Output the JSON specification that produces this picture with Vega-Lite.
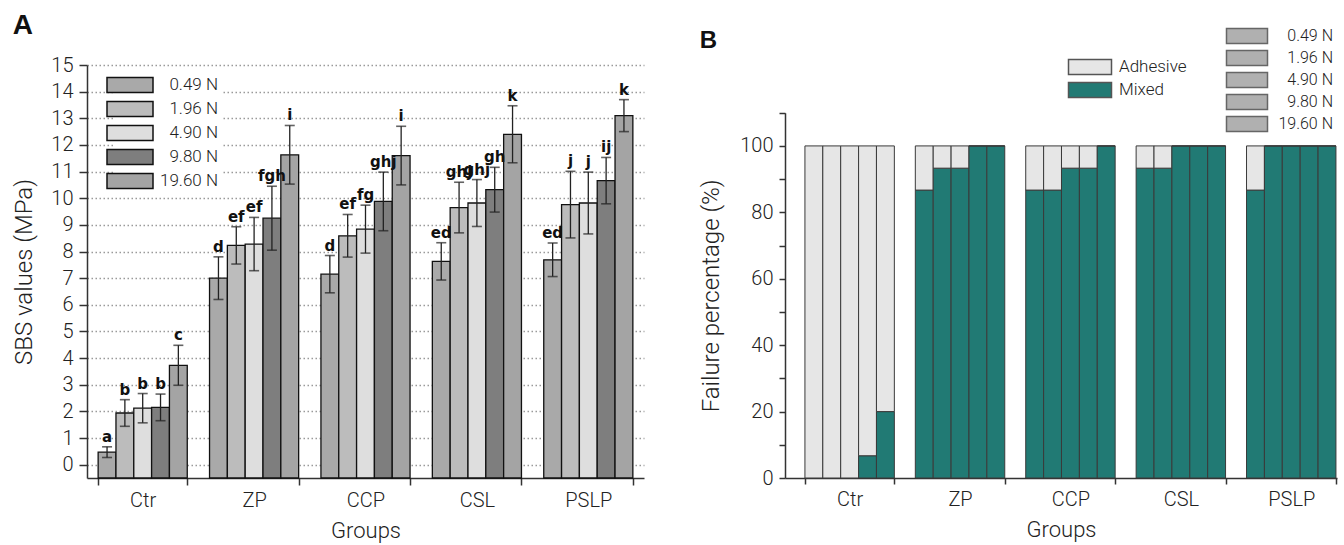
{
  "$schema": "https://vega.github.io/schema/vega-lite/v6.json",
  "background": "white",
  "padding": {"left": 12, "top": 12, "right": 4, "bottom": 4},
  "spacing": 55,
  "config": {
    "font": "Roboto",
    "view": {"stroke": null},
    "axis": {
      "labelFont": "Roboto", "labelFontWeight": 300, "labelFontSize": 20, "labelColor": "#222",
      "titleFont": "Roboto", "titleFontWeight": 300, "titleColor": "#222",
      "domainColor": "#333", "tickColor": "#333", "domainWidth": 1.5, "tickWidth": 1.5
    },
    "legend": {"labelFont": "Roboto", "labelFontWeight": 300, "labelFontSize": 17, "labelColor": "#222"},
    "title": {"font": "Liberation Sans", "fontWeight": "bold", "color": "#111"}
  },
  "resolve": {
    "scale": {"x": "independent", "y": "independent", "xOffset": "independent", "fill": "independent", "opacity": "independent"},
    "axis": {"x": "independent", "y": "independent"},
    "legend": {"fill": "independent", "opacity": "independent"}
  },
  "hconcat": [
    {
      "width": 557,
      "height": 413,
      "title": {"text": "A", "anchor": "start", "frame": "bounds", "fontSize": 28, "offset": 15},
      "data": {"values": [
        {"group": "Ctr", "force": "0.49 N", "sbs": 0.47, "lo": 0.27, "hi": 0.67, "label": "a"},
        {"group": "Ctr", "force": "1.96 N", "sbs": 1.94, "lo": 1.44, "hi": 2.44, "label": "b"},
        {"group": "Ctr", "force": "4.90 N", "sbs": 2.12, "lo": 1.57, "hi": 2.67, "label": "b"},
        {"group": "Ctr", "force": "9.80 N", "sbs": 2.15, "lo": 1.65, "hi": 2.65, "label": "b"},
        {"group": "Ctr", "force": "19.60 N", "sbs": 3.73, "lo": 2.98, "hi": 4.48, "label": "c"},
        {"group": "ZP", "force": "0.49 N", "sbs": 7.0, "lo": 6.2, "hi": 7.8, "label": "d"},
        {"group": "ZP", "force": "1.96 N", "sbs": 8.23, "lo": 7.53, "hi": 8.93, "label": "ef"},
        {"group": "ZP", "force": "4.90 N", "sbs": 8.28, "lo": 7.28, "hi": 9.28, "label": "ef"},
        {"group": "ZP", "force": "9.80 N", "sbs": 9.25, "lo": 8.05, "hi": 10.45, "label": "fgh"},
        {"group": "ZP", "force": "19.60 N", "sbs": 11.63, "lo": 10.53, "hi": 12.73, "label": "i"},
        {"group": "CCP", "force": "0.49 N", "sbs": 7.15, "lo": 6.45, "hi": 7.85, "label": "d"},
        {"group": "CCP", "force": "1.96 N", "sbs": 8.59, "lo": 7.79, "hi": 9.39, "label": "ef"},
        {"group": "CCP", "force": "4.90 N", "sbs": 8.84, "lo": 7.94, "hi": 9.74, "label": "fg"},
        {"group": "CCP", "force": "9.80 N", "sbs": 9.88, "lo": 8.78, "hi": 10.98, "label": "ghj"},
        {"group": "CCP", "force": "19.60 N", "sbs": 11.6, "lo": 10.5, "hi": 12.7, "label": "i"},
        {"group": "CSL", "force": "0.49 N", "sbs": 7.63, "lo": 6.93, "hi": 8.33, "label": "ed"},
        {"group": "CSL", "force": "1.96 N", "sbs": 9.65, "lo": 8.7, "hi": 10.6, "label": "ghj"},
        {"group": "CSL", "force": "4.90 N", "sbs": 9.82, "lo": 8.94, "hi": 10.7, "label": "ghj"},
        {"group": "CSL", "force": "9.80 N", "sbs": 10.32, "lo": 9.48, "hi": 11.16, "label": "gh"},
        {"group": "CSL", "force": "19.60 N", "sbs": 12.4, "lo": 11.33, "hi": 13.47, "label": "k"},
        {"group": "PSLP", "force": "0.49 N", "sbs": 7.69, "lo": 7.06, "hi": 8.32, "label": "ed"},
        {"group": "PSLP", "force": "1.96 N", "sbs": 9.76, "lo": 8.51, "hi": 11.01, "label": "j"},
        {"group": "PSLP", "force": "4.90 N", "sbs": 9.82, "lo": 8.66, "hi": 10.98, "label": "j"},
        {"group": "PSLP", "force": "9.80 N", "sbs": 10.66, "lo": 9.79, "hi": 11.53, "label": "ij"},
        {"group": "PSLP", "force": "19.60 N", "sbs": 13.1, "lo": 12.5, "hi": 13.7, "label": "k"}
      ]},
      "encoding": {
        "x": {
          "field": "group", "type": "nominal", "sort": ["Ctr", "ZP", "CCP", "CSL", "PSLP"],
          "scale": {"paddingInner": 0.2, "paddingOuter": 0.1},
          "title": "Groups",
          "axis": {"labelAngle": 0, "tickBand": "extent", "tickSize": 7, "labelPadding": 5, "titleFontSize": 22, "titlePadding": 10}
        },
        "xOffset": {"field": "force", "type": "nominal", "sort": ["0.49 N", "1.96 N", "4.90 N", "9.80 N", "19.60 N"], "scale": {"paddingInner": 0, "paddingOuter": 0}}
      },
      "layer": [
        {
          "mark": {"type": "bar", "stroke": "#111", "strokeWidth": 1.3},
          "encoding": {
            "y": {
              "field": "sbs", "type": "quantitative", "title": "SBS values (MPa)",
              "scale": {"domain": [-0.5, 15], "nice": false, "zero": false},
              "axis": {"values": [0, 1, 2, 3, 4, 5, 6, 7, 8, 9, 10, 11, 12, 13, 14, 15], "labelOverlap": false, "tickSize": 8, "grid": true, "gridDash": [1.5, 2.5], "gridColor": "#9a9a9a", "gridWidth": 1.5, "labelPadding": 6, "titleFontSize": 24, "titlePadding": 14}
            },
            "y2": {"datum": -0.5},
            "fill": {
              "field": "force", "type": "nominal",
              "scale": {"domain": ["0.49 N", "1.96 N", "4.90 N", "9.80 N", "19.60 N"], "range": ["#a9a9a9", "#bcbcbc", "#dedede", "#7e7e7e", "#a4a4a4"]},
              "legend": {
                "orient": "none", "legendX": 28, "legendY": 5, "title": null,
                "symbolType": "M-2.3,-0.75H2.3V0.75H-2.3Z", "symbolSize": 400,
                "symbolStrokeColor": "#111", "symbolStrokeWidth": 1.5,
                "labelAlign": "right", "labelOffset": 77, "rowPadding": 2,
                "fillColor": "white", "padding": 4, "labelFontSize": 17
              }
            }
          }
        },
        {
          "mark": {"type": "rule", "color": "#222", "strokeWidth": 1.3},
          "encoding": {
            "y": {
              "field": "lo", "type": "quantitative", "title": "SBS values (MPa)",
              "scale": {"domain": [-0.5, 15], "nice": false, "zero": false},
              "axis": {"values": [0, 1, 2, 3, 4, 5, 6, 7, 8, 9, 10, 11, 12, 13, 14, 15], "labelOverlap": false, "tickSize": 8, "grid": true, "gridDash": [1.5, 2.5], "gridColor": "#9a9a9a", "gridWidth": 1.5, "labelPadding": 6, "titleFontSize": 24, "titlePadding": 14}
            },
            "y2": {"field": "hi"}
          }
        },
        {
          "mark": {"type": "tick", "color": "#222", "size": 10, "thickness": 1.6},
          "encoding": {
            "y": {
              "field": "hi", "type": "quantitative", "title": "SBS values (MPa)",
              "scale": {"domain": [-0.5, 15], "nice": false, "zero": false},
              "axis": {"values": [0, 1, 2, 3, 4, 5, 6, 7, 8, 9, 10, 11, 12, 13, 14, 15], "labelOverlap": false, "tickSize": 8, "grid": true, "gridDash": [1.5, 2.5], "gridColor": "#9a9a9a", "gridWidth": 1.5, "labelPadding": 6, "titleFontSize": 24, "titlePadding": 14}
            }
          }
        },
        {
          "mark": {"type": "tick", "color": "#222", "size": 10, "thickness": 1.6},
          "encoding": {
            "y": {
              "field": "lo", "type": "quantitative", "title": "SBS values (MPa)",
              "scale": {"domain": [-0.5, 15], "nice": false, "zero": false},
              "axis": {"values": [0, 1, 2, 3, 4, 5, 6, 7, 8, 9, 10, 11, 12, 13, 14, 15], "labelOverlap": false, "tickSize": 8, "grid": true, "gridDash": [1.5, 2.5], "gridColor": "#9a9a9a", "gridWidth": 1.5, "labelPadding": 6, "titleFontSize": 24, "titlePadding": 14}
            }
          }
        },
        {
          "mark": {"type": "text", "font": "DejaVu Sans", "fontWeight": "bold", "fontSize": 15, "dy": -10, "color": "#111"},
          "encoding": {
            "y": {
              "field": "hi", "type": "quantitative", "title": "SBS values (MPa)",
              "scale": {"domain": [-0.5, 15], "nice": false, "zero": false},
              "axis": {"values": [0, 1, 2, 3, 4, 5, 6, 7, 8, 9, 10, 11, 12, 13, 14, 15], "labelOverlap": false, "tickSize": 8, "grid": true, "gridDash": [1.5, 2.5], "gridColor": "#9a9a9a", "gridWidth": 1.5, "labelPadding": 6, "titleFontSize": 24, "titlePadding": 14}
            },
            "text": {"field": "label"}
          }
        }
      ]
    },
    {
      "width": 552,
      "height": 413,
      "title": {"text": "B", "anchor": "start", "frame": "bounds", "fontSize": 24, "offset": -28},
      "data": {"values": [
        {"group": "Ctr", "force": "0.49 N", "type": "Mixed", "pct": 0},
        {"group": "Ctr", "force": "0.49 N", "type": "Adhesive", "pct": 100},
        {"group": "Ctr", "force": "1.96 N", "type": "Mixed", "pct": 0},
        {"group": "Ctr", "force": "1.96 N", "type": "Adhesive", "pct": 100},
        {"group": "Ctr", "force": "4.90 N", "type": "Mixed", "pct": 0},
        {"group": "Ctr", "force": "4.90 N", "type": "Adhesive", "pct": 100},
        {"group": "Ctr", "force": "9.80 N", "type": "Mixed", "pct": 6.7},
        {"group": "Ctr", "force": "9.80 N", "type": "Adhesive", "pct": 93.3},
        {"group": "Ctr", "force": "19.60 N", "type": "Mixed", "pct": 20},
        {"group": "Ctr", "force": "19.60 N", "type": "Adhesive", "pct": 80},
        {"group": "ZP", "force": "0.49 N", "type": "Mixed", "pct": 86.7},
        {"group": "ZP", "force": "0.49 N", "type": "Adhesive", "pct": 13.3},
        {"group": "ZP", "force": "1.96 N", "type": "Mixed", "pct": 93.3},
        {"group": "ZP", "force": "1.96 N", "type": "Adhesive", "pct": 6.7},
        {"group": "ZP", "force": "4.90 N", "type": "Mixed", "pct": 93.3},
        {"group": "ZP", "force": "4.90 N", "type": "Adhesive", "pct": 6.7},
        {"group": "ZP", "force": "9.80 N", "type": "Mixed", "pct": 100},
        {"group": "ZP", "force": "9.80 N", "type": "Adhesive", "pct": 0},
        {"group": "ZP", "force": "19.60 N", "type": "Mixed", "pct": 100},
        {"group": "ZP", "force": "19.60 N", "type": "Adhesive", "pct": 0},
        {"group": "CCP", "force": "0.49 N", "type": "Mixed", "pct": 86.7},
        {"group": "CCP", "force": "0.49 N", "type": "Adhesive", "pct": 13.3},
        {"group": "CCP", "force": "1.96 N", "type": "Mixed", "pct": 86.7},
        {"group": "CCP", "force": "1.96 N", "type": "Adhesive", "pct": 13.3},
        {"group": "CCP", "force": "4.90 N", "type": "Mixed", "pct": 93.3},
        {"group": "CCP", "force": "4.90 N", "type": "Adhesive", "pct": 6.7},
        {"group": "CCP", "force": "9.80 N", "type": "Mixed", "pct": 93.3},
        {"group": "CCP", "force": "9.80 N", "type": "Adhesive", "pct": 6.7},
        {"group": "CCP", "force": "19.60 N", "type": "Mixed", "pct": 100},
        {"group": "CCP", "force": "19.60 N", "type": "Adhesive", "pct": 0},
        {"group": "CSL", "force": "0.49 N", "type": "Mixed", "pct": 93.3},
        {"group": "CSL", "force": "0.49 N", "type": "Adhesive", "pct": 6.7},
        {"group": "CSL", "force": "1.96 N", "type": "Mixed", "pct": 93.3},
        {"group": "CSL", "force": "1.96 N", "type": "Adhesive", "pct": 6.7},
        {"group": "CSL", "force": "4.90 N", "type": "Mixed", "pct": 100},
        {"group": "CSL", "force": "4.90 N", "type": "Adhesive", "pct": 0},
        {"group": "CSL", "force": "9.80 N", "type": "Mixed", "pct": 100},
        {"group": "CSL", "force": "9.80 N", "type": "Adhesive", "pct": 0},
        {"group": "CSL", "force": "19.60 N", "type": "Mixed", "pct": 100},
        {"group": "CSL", "force": "19.60 N", "type": "Adhesive", "pct": 0},
        {"group": "PSLP", "force": "0.49 N", "type": "Mixed", "pct": 86.7},
        {"group": "PSLP", "force": "0.49 N", "type": "Adhesive", "pct": 13.3},
        {"group": "PSLP", "force": "1.96 N", "type": "Mixed", "pct": 100},
        {"group": "PSLP", "force": "1.96 N", "type": "Adhesive", "pct": 0},
        {"group": "PSLP", "force": "4.90 N", "type": "Mixed", "pct": 100},
        {"group": "PSLP", "force": "4.90 N", "type": "Adhesive", "pct": 0},
        {"group": "PSLP", "force": "9.80 N", "type": "Mixed", "pct": 100},
        {"group": "PSLP", "force": "9.80 N", "type": "Adhesive", "pct": 0},
        {"group": "PSLP", "force": "19.60 N", "type": "Mixed", "pct": 100},
        {"group": "PSLP", "force": "19.60 N", "type": "Adhesive", "pct": 0}
      ]},
      "mark": {"type": "bar", "stroke": "#3a3a3a", "strokeWidth": 1},
      "encoding": {
        "x": {
          "field": "group", "type": "nominal", "sort": ["Ctr", "ZP", "CCP", "CSL", "PSLP"],
          "scale": {"paddingInner": 0.19, "paddingOuter": 0.095, "align": 0.95},
          "title": "Groups",
          "axis": {"labelAngle": 0, "tickBand": "extent", "tickSize": 6, "labelPadding": 5, "titleFontSize": 22, "titlePadding": 10}
        },
        "xOffset": {"field": "force", "type": "nominal", "sort": ["0.49 N", "1.96 N", "4.90 N", "9.80 N", "19.60 N"], "scale": {"paddingInner": 0, "paddingOuter": 0}},
        "y": {
          "field": "pct", "type": "quantitative", "stack": "zero", "title": "Failure percentage (%)",
          "scale": {"domain": [0, 110], "nice": false, "range": [413, 47.7]},
          "axis": {
            "values": [0, 10, 20, 30, 40, 50, 60, 70, 80, 90, 100, 110],
            "labelExpr": "datum.value % 20 == 0 && datum.value <= 100 ? datum.label : ''",
            "labelOverlap": false,
            "tickSize": 6, "grid": false, "labelPadding": 6, "titleFontSize": 24, "titlePadding": 16
          }
        },
        "order": {"field": "type", "sort": "descending"},
        "fill": {
          "field": "type", "type": "nominal",
          "scale": {"domain": ["Adhesive", "Mixed"], "range": ["#e6e6e6", "#217a74"]},
          "legend": {
            "orient": "none", "legendX": 294, "legendY": -9, "title": null,
            "symbolType": "M-2.15,-0.75H2.15V0.75H-2.15Z", "symbolSize": 400,
            "symbolStrokeColor": "#555", "symbolStrokeWidth": 1.5,
            "labelOffset": 18, "rowPadding": 1, "labelFontSize": 17
          }
        },
        "opacity": {
          "field": "force", "type": "ordinal", "sort": ["0.49 N", "1.96 N", "4.90 N", "9.80 N", "19.60 N"],
          "scale": {"domain": ["0.49 N", "1.96 N", "4.90 N", "9.80 N", "19.60 N"], "range": [1, 1, 1, 1, 1]},
          "legend": {
            "orient": "none", "legendX": 451, "legendY": -40, "title": null,
            "symbolType": "M-2.05,-0.75H2.05V0.75H-2.05Z", "symbolSize": 400,
            "symbolFillColor": "#b0b0b0", "symbolStrokeColor": "#666", "symbolStrokeWidth": 1.5,
            "labelAlign": "right", "labelOffset": 75, "rowPadding": 0, "labelFontSize": 16
          }
        }
      }
    }
  ]
}
